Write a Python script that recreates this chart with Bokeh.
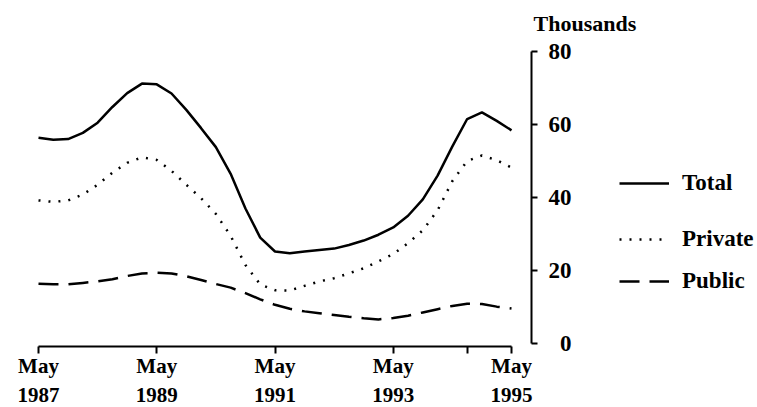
import pandas as pd
from bokeh.plotting import figure
from bokeh.models import Range1d, FixedTicker, Legend, LegendItem, Label
from bokeh.embed import file_html
from bokeh.resources import INLINE

# ---- data (thousands), quarterly ----
dates = ["1987-05", "1987-08", "1987-11", "1988-02", "1988-05", "1988-08", "1988-11",
         "1989-02", "1989-05", "1989-08", "1989-11", "1990-02", "1990-05", "1990-08",
         "1990-11", "1991-02", "1991-05", "1991-08", "1991-11", "1992-02", "1992-05",
         "1992-08", "1992-11", "1993-02", "1993-05", "1993-08", "1993-11", "1994-02",
         "1994-05", "1994-08", "1994-11", "1995-02", "1995-05"]
total = [56.4, 55.8, 56.0, 57.7, 60.5, 64.8, 68.6, 71.2, 71.0, 68.5, 64.0, 59.0,
         53.8, 46.5, 37.0, 29.0, 25.2, 24.7, 25.2, 25.6, 26.0, 27.0, 28.2, 29.8,
         31.8, 35.0, 39.5, 46.0, 54.0, 61.5, 63.3, 61.0, 58.4]
private = [39.2, 38.8, 39.2, 40.8, 43.5, 46.8, 49.5, 51.0, 50.3, 47.3, 43.5, 39.8,
           35.5, 29.5, 21.5, 16.2, 14.6, 14.5, 15.8, 17.0, 17.9, 19.2, 20.6, 22.5,
           24.5, 27.5, 31.0, 36.5, 44.5, 50.0, 51.5, 50.2, 48.2]
public = [16.4, 16.2, 16.2, 16.6, 17.0, 17.6, 18.5, 19.2, 19.4, 19.2, 18.4, 17.4,
          16.3, 15.3, 13.8, 12.1, 10.6, 9.5, 8.8, 8.3, 7.8, 7.3, 6.9, 6.6,
          7.0, 7.6, 8.5, 9.4, 10.3, 10.9, 10.8, 10.1, 9.6]

tick_dates = ["1987-05", "1989-05", "1991-05", "1993-05", "1995-05"]
tick_labels = ["May\n1987", "May\n1989", "May\n1991", "May\n1993", "May\n1995"]
minor_tick_dates = ["1994-08"]
y_ticks = [0, 20, 40, 60, 80]
series_names = ["Total", "Private", "Public"]
y_unit = "Thousands"


def dec_year(s):
    d = pd.Timestamp(s + "-01")
    return d.year + (d.month - 1) / 12.0


x = [dec_year(d) for d in dates]
xt = [dec_year(d) for d in tick_dates]
xm = [dec_year(d) for d in minor_tick_dates]

FONT = "Liberation Serif"

# layout geometry (pixels); the frame covers the whole canvas
W, H = 757, 407
first_tick_px = 38
px_per_year = 473 / 8.0
px_per_unit = 292 / 80.0
axis_px = 531            # value axis position
zero_px = 343            # pixel row of value 0
xaxis_px = 346           # pixel row of the time axis

x0 = xt[0] - first_tick_px / px_per_year
x1 = x0 + W / px_per_year
y0 = -(H - zero_px) / px_per_unit
y1 = zero_px / px_per_unit
axis_x = x0 + axis_px / px_per_year
xaxis_y = -(xaxis_px - zero_px) / px_per_unit

p = figure(frame_width=W, frame_height=H,
           x_range=Range1d(x0, x1), y_range=Range1d(y0, y1),
           x_axis_location="above", y_axis_location="left",
           output_backend="svg", toolbar_location=None,
           min_border_left=0, min_border_top=0,
           min_border_right=0, min_border_bottom=0,
           background_fill_color="white", border_fill_color="white",
           outline_line_color=None)
p.grid.visible = False

r_total = p.line(x, total, line_color="black", line_width=2.5)
r_priv = p.line(x, private, line_color="black", line_width=2.5,
                line_dash="2 8")
r_pub = p.line(x, public, line_color="black", line_width=2.5,
               line_dash="20 10")

# time axis: ticks point down, labels below the line
xa = p.xaxis[0]
xa.fixed_location = xaxis_y
xa.ticker = FixedTicker(ticks=xt, minor_ticks=xm)
xa.major_label_overrides = {t: l for t, l in zip(xt, tick_labels)}
xa.bounds = (xt[0], xt[-1])
xa.axis_line_width = 2
xa.major_tick_line_width = 2
xa.minor_tick_line_width = 2
xa.major_tick_out = 0
xa.major_tick_in = 7
xa.minor_tick_out = 0
xa.minor_tick_in = 7
xa.major_label_standoff = -60
xa.major_label_text_font = FONT
xa.major_label_text_font_style = "bold"
xa.major_label_text_font_size = "21px"
xa.major_label_text_line_height = 1.2
xa.major_label_text_color = "black"

# value axis: ticks and labels on its right side
ya = p.yaxis[0]
ya.fixed_location = axis_x
ya.ticker = FixedTicker(ticks=y_ticks)
ya.bounds = (0, 80)
ya.axis_line_width = 2
ya.major_tick_line_width = 2
ya.major_tick_out = 0
ya.major_tick_in = 6
ya.minor_tick_out = 0
ya.minor_tick_in = 0
ya.major_label_standoff = -40
ya.major_label_text_font = FONT
ya.major_label_text_font_style = "bold"
ya.major_label_text_font_size = "23px"
ya.major_label_text_color = "black"

# unit label above the axis
p.add_layout(Label(x=axis_x, y=80 + 28 / px_per_unit, x_offset=2,
                   text=y_unit, text_font=FONT, text_font_style="bold",
                   text_font_size="22px", text_baseline="middle",
                   text_align="left", text_color="black"))

# legend rows (screen offsets from the frame's bottom-left corner)
row_bottoms = [209, 153, 111]
for name, r, yb in zip(series_names, [r_total, r_priv, r_pub], row_bottoms):
    lg = Legend(items=[LegendItem(label=name, renderers=[r])],
                location=(619, yb), orientation="vertical",
                glyph_width=50, glyph_height=30, label_height=30,
                label_standoff=13, padding=0, margin=0, spacing=0,
                border_line_color=None, background_fill_alpha=0,
                label_text_font=FONT, label_text_font_style="bold",
                label_text_font_size="23px", label_text_color="black",
                label_text_baseline="middle")
    p.add_layout(lg, "center")

open("out.html", "w").write(file_html(p, INLINE))
